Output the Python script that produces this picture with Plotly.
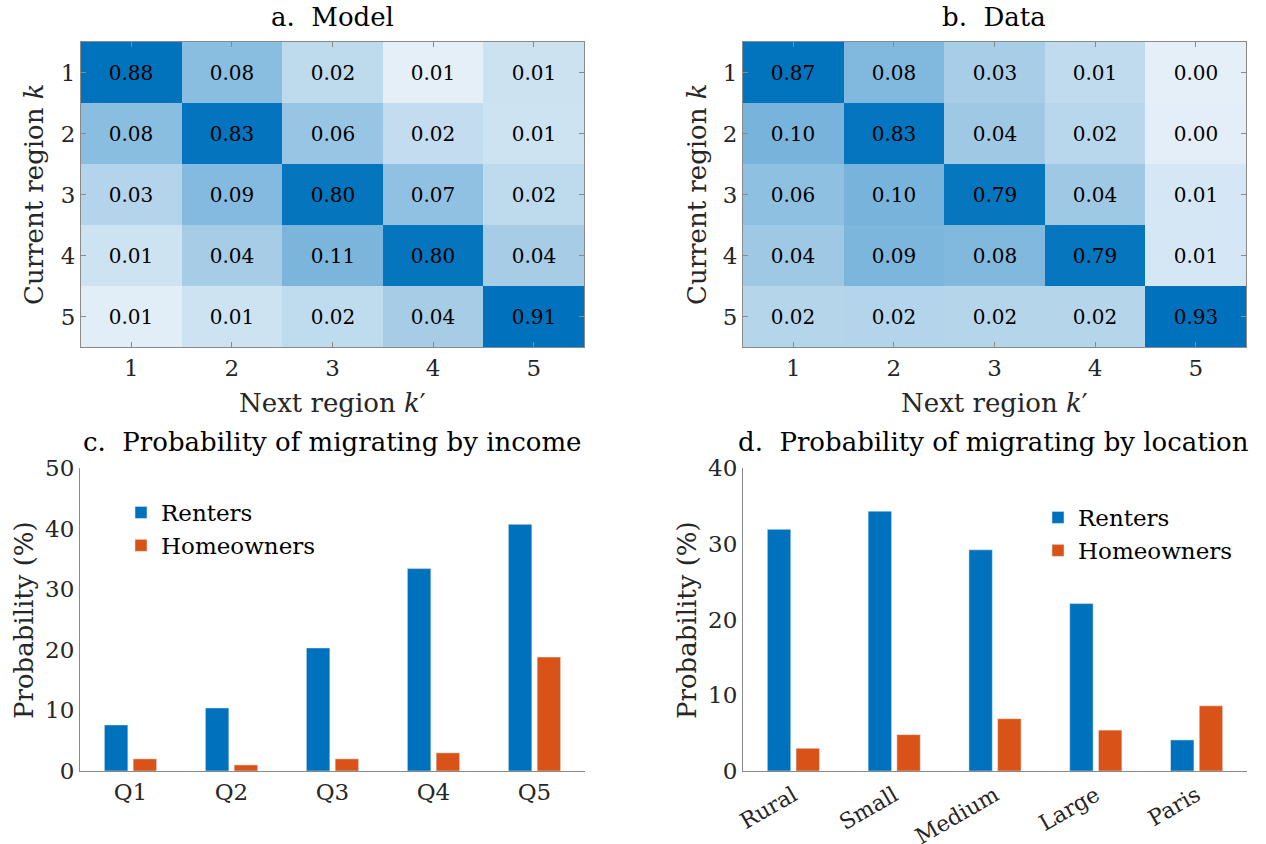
import numpy as np
import plotly.graph_objects as go

# ---------------- data ----------------
regions = [1, 2, 3, 4, 5]
model_probs = [
    [0.88, 0.08, 0.021, 0.0055, 0.013],
    [0.08, 0.83, 0.06, 0.018, 0.012],
    [0.028, 0.09, 0.80, 0.07, 0.021],
    [0.012, 0.04, 0.11, 0.80, 0.04],
    [0.006, 0.012, 0.02, 0.04, 0.91],
]
data_probs = [
    [0.87, 0.08, 0.03, 0.014, 0.0036],
    [0.10, 0.83, 0.04, 0.018, 0.0038],
    [0.06, 0.10, 0.79, 0.04, 0.0063],
    [0.04, 0.09, 0.08, 0.79, 0.0063],
    [0.02, 0.021, 0.02, 0.02, 0.93],
]
quintiles = ["Q1", "Q2", "Q3", "Q4", "Q5"]
renters_income = [7.6, 10.4, 20.3, 33.4, 40.7]
owners_income = [2.0, 1.0, 2.0, 3.0, 18.8]
locations = ["Rural", "Small", "Medium", "Large", "Paris"]
renters_loc = [31.9, 34.3, 29.2, 22.1, 4.1]
owners_loc = [3.0, 4.8, 6.9, 5.4, 8.6]

# ---------------- style ----------------
W, H = 1266, 844
FONT = "DejaVu Serif"
TXT = "#262626"
AX = "#8a8a8a"
BLUE = "#0072bd"
ORANGE = "#d95319"
cscale = [
    [0.0, "#e4eff8"], [0.25, "#c0dbee"], [0.39, "#a6cce6"], [0.47, "#97c5e3"],
    [0.53, "#88bde0"], [0.59, "#7ab4db"], [0.97, "#0676be"], [1.0, "#0072bd"],
]


def px_x(p):
    return p / W


def px_y(p):
    return 1 - p / H


dom = {
    "a": ([px_x(81), px_x(584)], [px_y(347), px_y(42)]),
    "b": ([px_x(743), px_x(1246)], [px_y(347), px_y(42)]),
    "c": ([px_x(80), px_x(585)], [px_y(771), px_y(468)]),
    "d": ([px_x(743), px_x(1247)], [px_y(771), px_y(468)]),
}

fig = go.Figure()

for name, mat, xa, ya in [("a", model_probs, "x", "y"), ("b", data_probs, "x2", "y2")]:
    arr = np.array(mat)
    fig.add_trace(go.Heatmap(
        z=np.log10(arr), x=regions, y=regions,
        text=[[f"{v:.2f}" for v in row] for row in mat],
        texttemplate="%{text}", textfont=dict(family=FONT, size=20, color="black"),
        colorscale=cscale, showscale=False, xaxis=xa, yaxis=ya, hoverinfo="skip",
    ))

fig.add_trace(go.Bar(x=quintiles, y=renters_income, name="Renters", marker_color=BLUE,
                     xaxis="x3", yaxis="y3", legend="legend"))
fig.add_trace(go.Bar(x=quintiles, y=owners_income, name="Homeowners", marker_color=ORANGE,
                     xaxis="x3", yaxis="y3", legend="legend"))
fig.add_trace(go.Bar(x=locations, y=renters_loc, name="Renters", marker_color=BLUE,
                     xaxis="x4", yaxis="y4", legend="legend2"))
fig.add_trace(go.Bar(x=locations, y=owners_loc, name="Homeowners", marker_color=ORANGE,
                     xaxis="x4", yaxis="y4", legend="legend2"))

tickfont = dict(family=FONT, size=23, color=TXT)
hm_x = dict(tickvals=regions, ticks="inside", ticklen=5, tickcolor=AX, showline=True,
            linecolor=AX, linewidth=1, mirror="ticks", showgrid=False, zeroline=False,
            tickfont=tickfont, range=[0.5, 5.5], automargin=False)
hm_y = dict(hm_x, range=[5.5, 0.5])

bar_x = dict(showline=True, linecolor=AX, linewidth=1, ticks="", showgrid=False,
             zeroline=False, tickfont=tickfont, automargin=False)
bar_y = dict(showline=True, linecolor=AX, linewidth=1, ticks="", showgrid=False,
             zeroline=False, tickfont=tickfont, dtick=10, automargin=False)

fig.update_layout(
    width=W, height=H, margin=dict(l=0, r=0, t=0, b=0, autoexpand=False),
    paper_bgcolor="white", plot_bgcolor="white",
    font=dict(family=FONT, color=TXT),
    barmode="group", bargap=0.43, bargroupgap=0.185,
    xaxis=dict(hm_x, domain=dom["a"][0], anchor="y"),
    yaxis=dict(hm_y, domain=dom["a"][1], anchor="x"),
    xaxis2=dict(hm_x, domain=dom["b"][0], anchor="y2"),
    yaxis2=dict(hm_y, domain=dom["b"][1], anchor="x2"),
    xaxis3=dict(bar_x, domain=dom["c"][0], anchor="y3"),
    yaxis3=dict(bar_y, domain=dom["c"][1], anchor="x3", range=[0, 50]),
    xaxis4=dict(bar_x, domain=dom["d"][0], anchor="y4", tickangle=-30, ticklabelstandoff=2,
                tickfont=dict(tickfont, size=22)),
    yaxis4=dict(bar_y, domain=dom["d"][1], anchor="x4", range=[0, 40]),
    legend=dict(x=px_x(121), y=px_y(491), xanchor="left", yanchor="top",
                font=dict(family=FONT, size=23, color="black"), bgcolor="rgba(0,0,0,0)",
                tracegroupgap=2),
    legend2=dict(x=px_x(1038), y=px_y(496), xanchor="left", yanchor="top",
                 font=dict(family=FONT, size=23, color="black"), bgcolor="rgba(0,0,0,0)",
                 tracegroupgap=2),
)

ann = []
title_font = dict(family=FONT, size=26, color="black")
lab_font = dict(family=FONT, size=26, color=TXT)
ann.append(dict(text="a.  Model", x=px_x(332), y=px_y(17), font=title_font))
ann.append(dict(text="b.  Data", x=px_x(994), y=px_y(17), font=title_font))
ann.append(dict(text="c.  Probability of migrating by income", x=px_x(332), y=px_y(442), font=title_font))
ann.append(dict(text="d.  Probability of migrating by location", x=px_x(993), y=px_y(442), font=title_font))
ann.append(dict(text="Next region <i>k</i>′", x=px_x(332), y=px_y(403), font=lab_font))
ann.append(dict(text="Next region <i>k</i>′", x=px_x(994), y=px_y(403), font=lab_font))
ann.append(dict(text="Current region <i>k</i>", x=px_x(34), y=px_y(194), font=lab_font, textangle=-90))
ann.append(dict(text="Current region <i>k</i>", x=px_x(697), y=px_y(194), font=lab_font, textangle=-90))
ann.append(dict(text="Probability (%)", x=px_x(24), y=px_y(620), font=lab_font, textangle=-90))
ann.append(dict(text="Probability (%)", x=px_x(687), y=px_y(620), font=lab_font, textangle=-90))
for a in ann:
    a.update(xref="paper", yref="paper", showarrow=False, xanchor="center", yanchor="middle")
fig.update_layout(annotations=ann)

fig.write_html("out.html")
